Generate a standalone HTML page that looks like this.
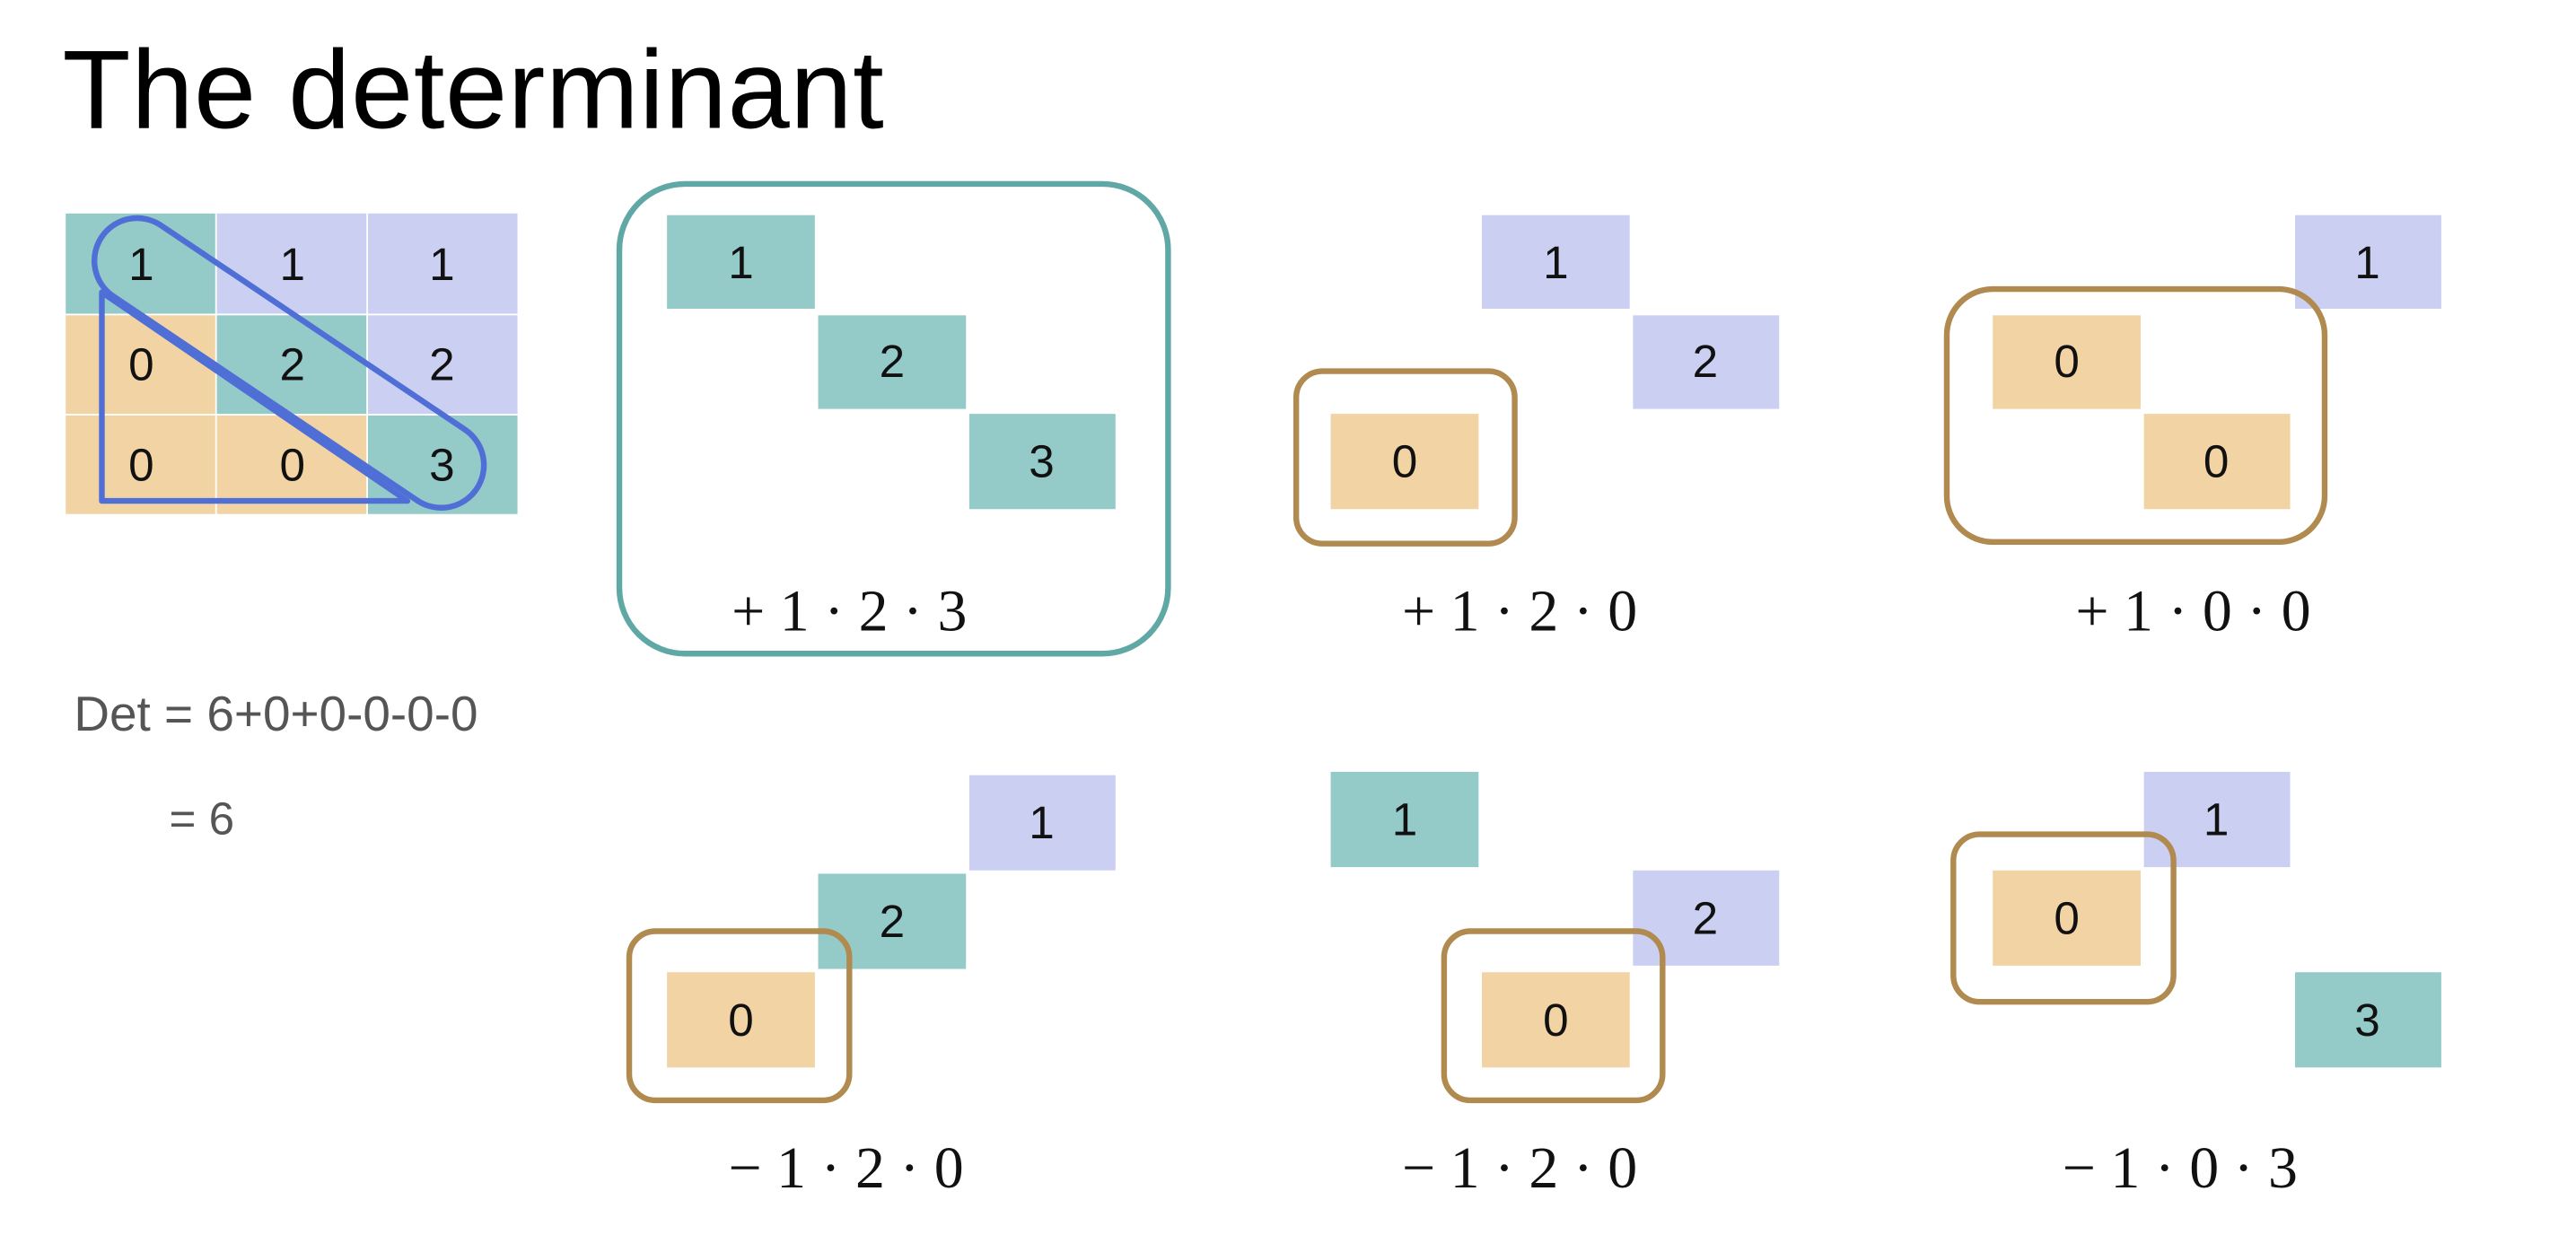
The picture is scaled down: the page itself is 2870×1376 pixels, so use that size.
<!DOCTYPE html>
<html><head><meta charset="utf-8"><style>
html,body{margin:0;padding:0;background:#fff;}
svg{display:block;}
.n{font-family:"Liberation Sans",sans-serif;font-size:28px;fill:#111;text-anchor:middle;dominant-baseline:central;}
.l{font-family:"Liberation Serif",serif;font-size:36px;fill:#111;text-anchor:middle;}
.t{fill:#94cbc9}.v{fill:#cbd0f2}.p{fill:#f2d3a4}
.bx{fill:none;stroke:#b08a4e;stroke-width:3.5}
</style></head><body>
<svg width="2870" height="1376" viewBox="0 0 1568 752" preserveAspectRatio="none" xmlns="http://www.w3.org/2000/svg">
<text x="38" y="78" font-family="Liberation Sans,sans-serif" font-size="68" fill="#000" textLength="500">The determinant</text>
<g>
<rect class="t" x="40" y="130" width="91" height="61"/><rect class="v" x="132" y="130" width="91" height="61"/><rect class="v" x="224" y="130" width="91" height="61"/>
<rect class="p" x="40" y="192" width="91" height="60"/><rect class="t" x="132" y="192" width="91" height="60"/><rect class="v" x="224" y="192" width="91" height="60"/>
<rect class="p" x="40" y="253" width="91" height="60"/><rect class="p" x="132" y="253" width="91" height="60"/><rect class="t" x="224" y="253" width="91" height="60"/>
<text class="n" x="86" y="161">1</text><text class="n" x="178" y="161">1</text><text class="n" x="269" y="161">1</text>
<text class="n" x="86" y="222">0</text><text class="n" x="178" y="222">2</text><text class="n" x="269" y="222">2</text>
<text class="n" x="86" y="283">0</text><text class="n" x="178" y="283">0</text><text class="n" x="269" y="283">3</text>
<path d="M62,178 L62,305 L248,305 Z" fill="none" stroke="#4f6fd6" stroke-width="3.5" stroke-linejoin="round"/>
<rect x="38.5" y="195" width="275" height="52" rx="26" transform="rotate(33.9 176 221)" fill="none" stroke="#4f6fd6" stroke-width="3.5"/>
</g>
<text x="45" y="445" font-family="Liberation Sans,sans-serif" font-size="30" fill="#555">Det = 6+0+0-0-0-0</text>
<text x="103" y="508" font-family="Liberation Sans,sans-serif" font-size="28" fill="#555">= 6</text>
<rect x="377" y="112" width="334" height="286" rx="40" fill="none" stroke="#5fa8a6" stroke-width="3.5"/>
<rect class="t" x="406" y="131" width="90" height="57"/><text class="n" x="451" y="160">1</text>
<rect class="t" x="498" y="192" width="90" height="57"/><text class="n" x="543" y="220">2</text>
<rect class="t" x="590" y="252" width="89" height="58"/><text class="n" x="634" y="281">3</text>
<text class="l" x="517" y="384">+ 1 · 2 · 3</text>
<rect class="v" x="902" y="131" width="90" height="57"/><text class="n" x="947" y="160">1</text>
<rect class="v" x="994" y="192" width="89" height="57"/><text class="n" x="1038" y="220">2</text>
<rect class="p" x="810" y="252" width="90" height="58"/><text class="n" x="855" y="281">0</text>
<rect class="bx" x="789" y="226" width="133" height="105" rx="16"/>
<text class="l" x="925" y="384">+ 1 · 2 · 0</text>
<rect class="v" x="1397" y="131" width="89" height="57"/><text class="n" x="1441" y="160">1</text>
<rect class="p" x="1213" y="192" width="90" height="57"/><text class="n" x="1258" y="220">0</text>
<rect class="p" x="1305" y="252" width="89" height="58"/><text class="n" x="1349" y="281">0</text>
<rect class="bx" x="1185" y="176" width="230" height="154" rx="28"/>
<text class="l" x="1335" y="384">+ 1 · 0 · 0</text>
<rect class="v" x="590" y="472" width="89" height="58"/><text class="n" x="634" y="501">1</text>
<rect class="t" x="498" y="532" width="90" height="58"/><text class="n" x="543" y="561">2</text>
<rect class="p" x="406" y="592" width="90" height="58"/><text class="n" x="451" y="621">0</text>
<rect class="bx" x="383" y="567" width="134" height="103" rx="16"/>
<text class="l" x="515" y="723">−  1 · 2 · 0</text>
<rect class="t" x="810" y="470" width="90" height="58"/><text class="n" x="855" y="499">1</text>
<rect class="v" x="994" y="530" width="89" height="58"/><text class="n" x="1038" y="559">2</text>
<rect class="p" x="902" y="592" width="90" height="58"/><text class="n" x="947" y="621">0</text>
<rect class="bx" x="879" y="567" width="133" height="103" rx="16"/>
<text class="l" x="925" y="723">− 1 · 2 · 0</text>
<rect class="v" x="1305" y="470" width="89" height="58"/><text class="n" x="1349" y="499">1</text>
<rect class="p" x="1213" y="530" width="90" height="58"/><text class="n" x="1258" y="559">0</text>
<rect class="t" x="1397" y="592" width="89" height="58"/><text class="n" x="1441" y="621">3</text>
<rect class="bx" x="1189" y="508" width="134" height="102" rx="16"/>
<text class="l" x="1327" y="723">− 1 · 0 · 3</text>
</svg>
</body></html>
